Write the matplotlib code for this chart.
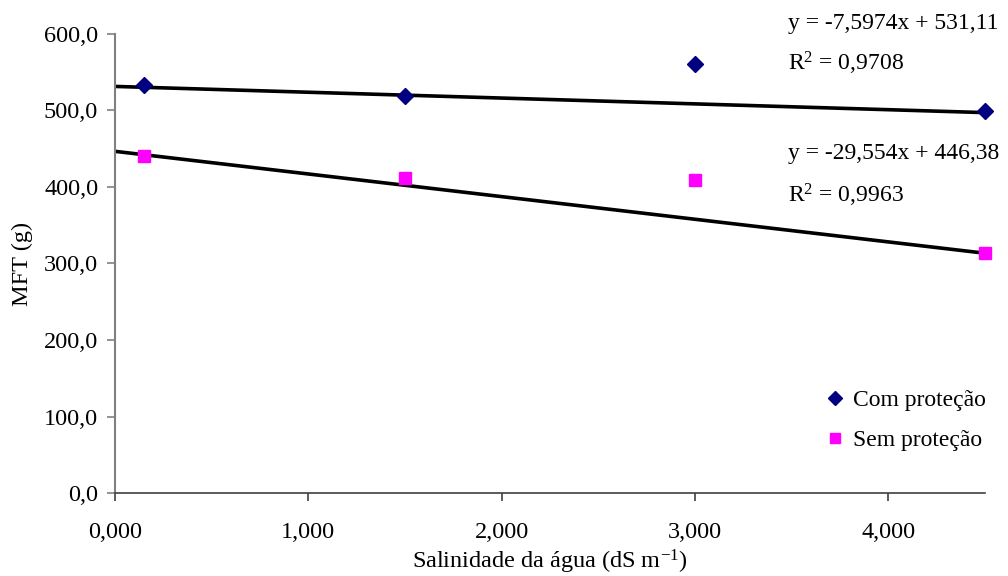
import matplotlib
matplotlib.use("Agg")
import matplotlib.pyplot as plt
import numpy as np
from matplotlib.ticker import FuncFormatter, MultipleLocator

plt.rcParams['font.family'] = ['Liberation Serif', 'DejaVu Serif']
plt.rcParams['mathtext.fontset'] = 'custom'
plt.rcParams['mathtext.rm'] = 'Liberation Serif'
plt.rcParams['mathtext.it'] = 'Liberation Serif:italic'

# Data
x_com = [0.15, 1.5, 3.0, 4.5]
y_com = [533.0, 518.0, 561.0, 499.0]
x_sem = [0.15, 1.5, 3.0, 4.5]
y_sem = [440.0, 411.0, 409.0, 314.0]
trend_com = [-7.5974, 531.11]   # slope, intercept
trend_sem = [-29.554, 446.38]
trend_x = [0.0, 4.5]
eq_com = ["y = -7,5974x + 531,11", r"R$^{\mathrm{2}}$ = 0,9708"]
eq_sem = ["y = -29,554x + 446,38", r"R$^{\mathrm{2}}$ = 0,9963"]
labels = ["Com proteção", "Sem proteção"]

FS = 17.5

fig = plt.figure(figsize=(10.08, 5.76), dpi=100)
ax = fig.add_axes([0.114, 0.1436, 0.863, 0.798])

tx = np.array(trend_x)
ax.plot(tx, trend_com[0] * tx + trend_com[1], color='black', lw=2.6, zorder=2)
ax.plot(tx, trend_sem[0] * tx + trend_sem[1], color='black', lw=2.6, zorder=2)
ax.plot(x_com, y_com, linestyle='none', marker='D', ms=8.3, color='#000080',
        label=labels[0], zorder=3, clip_on=False)
ax.plot(x_sem, y_sem, linestyle='none', marker='s', ms=8, color='#FF00FF',
        label=labels[1], zorder=3, clip_on=False)

ax.set_xlim(0, 4.5)
ax.set_ylim(0, 600)
ax.xaxis.set_major_locator(MultipleLocator(1.0))
ax.yaxis.set_major_locator(MultipleLocator(100))
ax.xaxis.set_major_formatter(FuncFormatter(lambda v, p: f"{v:.3f}".replace('.', ',')))
ax.yaxis.set_major_formatter(FuncFormatter(lambda v, p: f"{v:.1f}".replace('.', ',')))

for s in ['top', 'right']:
    ax.spines[s].set_visible(False)
ax.spines['left'].set_color('#808080')
ax.spines['left'].set_linewidth(1.5)
ax.spines['bottom'].set_color('#404040')
ax.spines['bottom'].set_linewidth(1.2)
ax.tick_params(axis='y', direction='out', length=6, width=1.2, color='#808080',
               labelsize=FS, pad=6)
ax.tick_params(axis='x', direction='out', length=6, width=1.2, color='#404040',
               labelsize=FS, pad=15)

ax.set_xlabel(r"Salinidade da água (dS m$^{\mathrm{-1}}$)", fontsize=FS, labelpad=3)
ax.set_ylabel("MFT (g)", fontsize=FS, labelpad=8)

EFS = 17
fig.text(0.782, 0.960, eq_com[0], fontsize=EFS, va='center', ha='left')
fig.text(0.782, 0.890, eq_com[1], fontsize=EFS, va='center', ha='left')
fig.text(0.782, 0.733, eq_sem[0], fontsize=EFS, va='center', ha='left')
fig.text(0.782, 0.660, eq_sem[1], fontsize=EFS, va='center', ha='left')

leg = ax.legend(loc='center left', bbox_to_anchor=(0.810, 0.270),
                bbox_transform=fig.transFigure, frameon=False, fontsize=EFS,
                handlelength=0.6, handletextpad=0.45, labelspacing=0.8,
                markerscale=0.85, borderpad=0)

fig.savefig("out.png", dpi=100)
